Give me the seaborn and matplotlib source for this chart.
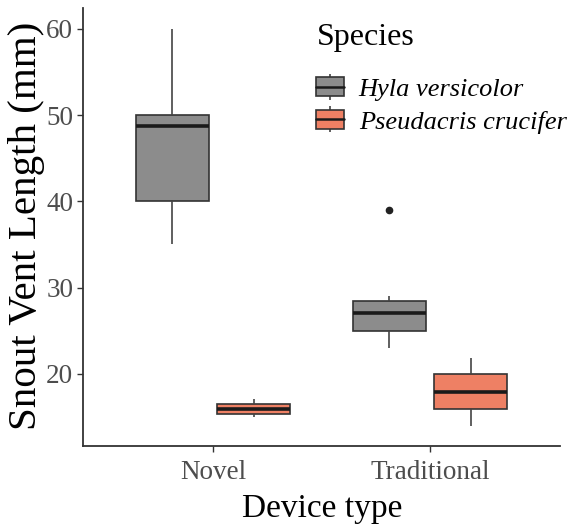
import matplotlib
matplotlib.use("Agg")
import matplotlib.pyplot as plt
import seaborn as sns
import pandas as pd
from matplotlib.patches import Patch
from matplotlib.lines import Line2D

# ---- data ----
devices = ["Novel", "Traditional"]
species = ["Hyla versicolor", "Pseudacris crucifer"]
hyla_novel = [35, 40, 48.7, 50, 60]
pseud_novel = [15.05, 15.4, 15.95, 16.5, 17.1]
hyla_trad = [23.05, 24, 25, 26, 27.1, 28, 28.5, 29.07, 39]
pseud_trad = [14, 15.9, 17.95, 20, 21.9]
colors = ["#8C8C8C", "#EE8064"]

rows = []
for dev, sp, vals in [("Novel", species[0], hyla_novel),
                      ("Novel", species[1], pseud_novel),
                      ("Traditional", species[0], hyla_trad),
                      ("Traditional", species[1], pseud_trad)]:
    for v in vals:
        rows.append({"Device type": dev, "Species": sp, "SVL": v})
df = pd.DataFrame(rows)

sns.set_theme(style="white")
plt.rcParams["font.family"] = ["Liberation Serif", "DejaVu Serif"]
plt.rcParams["text.color"] = "black"

fig = plt.figure(figsize=(5.69, 5.29), dpi=100)
ax = fig.add_axes([83/569, 1-446/529, (560-83)/569, (446-8)/529])

sns.boxplot(data=df, x="Device type", y="SVL", hue="Species",
            order=devices, hue_order=species,
            palette=dict(zip(species, colors)), saturation=1,
            width=0.75, gap=0.1, linecolor="#333333", linewidth=1.2,
            medianprops=dict(color="#1a1a1a", linewidth=2.6),
            whiskerprops=dict(color="#444444", linewidth=1.2),
            capprops=dict(linewidth=0),
            flierprops=dict(marker="o", markerfacecolor="#222222",
                            markeredgecolor="#222222", markersize=4.5),
            legend=False, ax=ax)

ax.set_xlim(-0.6, 1.6)
ax.set_ylim(11.65, 62.4)
ax.set_yticks([20, 30, 40, 50, 60])

for s in ["top", "right"]:
    ax.spines[s].set_visible(False)
for s in ["left", "bottom"]:
    ax.spines[s].set_color("#333333")
    ax.spines[s].set_linewidth(1.3)

ax.tick_params(axis="both", which="both", length=4, width=1, color="#333333",
               labelsize=19.5, labelcolor="#4D4D4D", direction="out",
               bottom=True, left=True)
ax.tick_params(axis="x", pad=6)
ax.tick_params(axis="y", pad=3)
ax.set_xlabel("")
ax.set_ylabel("")
fig.text(322/569, 1-509/529, "Device type", fontsize=24, color="black",
         ha="center", va="center")
fig.text(27/569, 1-226/529, "Snout Vent Length (mm)", fontsize=29.5,
         color="black", ha="center", va="center", rotation=90)

handles = []
for c in colors:
    whisk = Line2D([], [], linestyle="none", marker="|", markersize=19,
                   markeredgewidth=1.2, color="#444444")
    box = Patch(facecolor=c, edgecolor="#333333", linewidth=1.2)
    med = Line2D([], [], color="#1a1a1a", linewidth=1.8)
    handles.append((whisk, box, med))

leg = fig.legend(handles, species, title="Species", loc="upper left",
                 bbox_to_anchor=(298/569, 1-5/529), frameon=False,
                 prop=dict(size=19, style="italic"), title_fontsize=23,
                 handlelength=1.05, handleheight=0.7, handletextpad=0.55,
                 labelspacing=0.35, borderpad=0.2, labelcolor="black")
leg.get_title().set_color("black")
leg._legend_box.align = "left"
leg._legend_box.sep = 18

fig.savefig("out.png", dpi=100)
